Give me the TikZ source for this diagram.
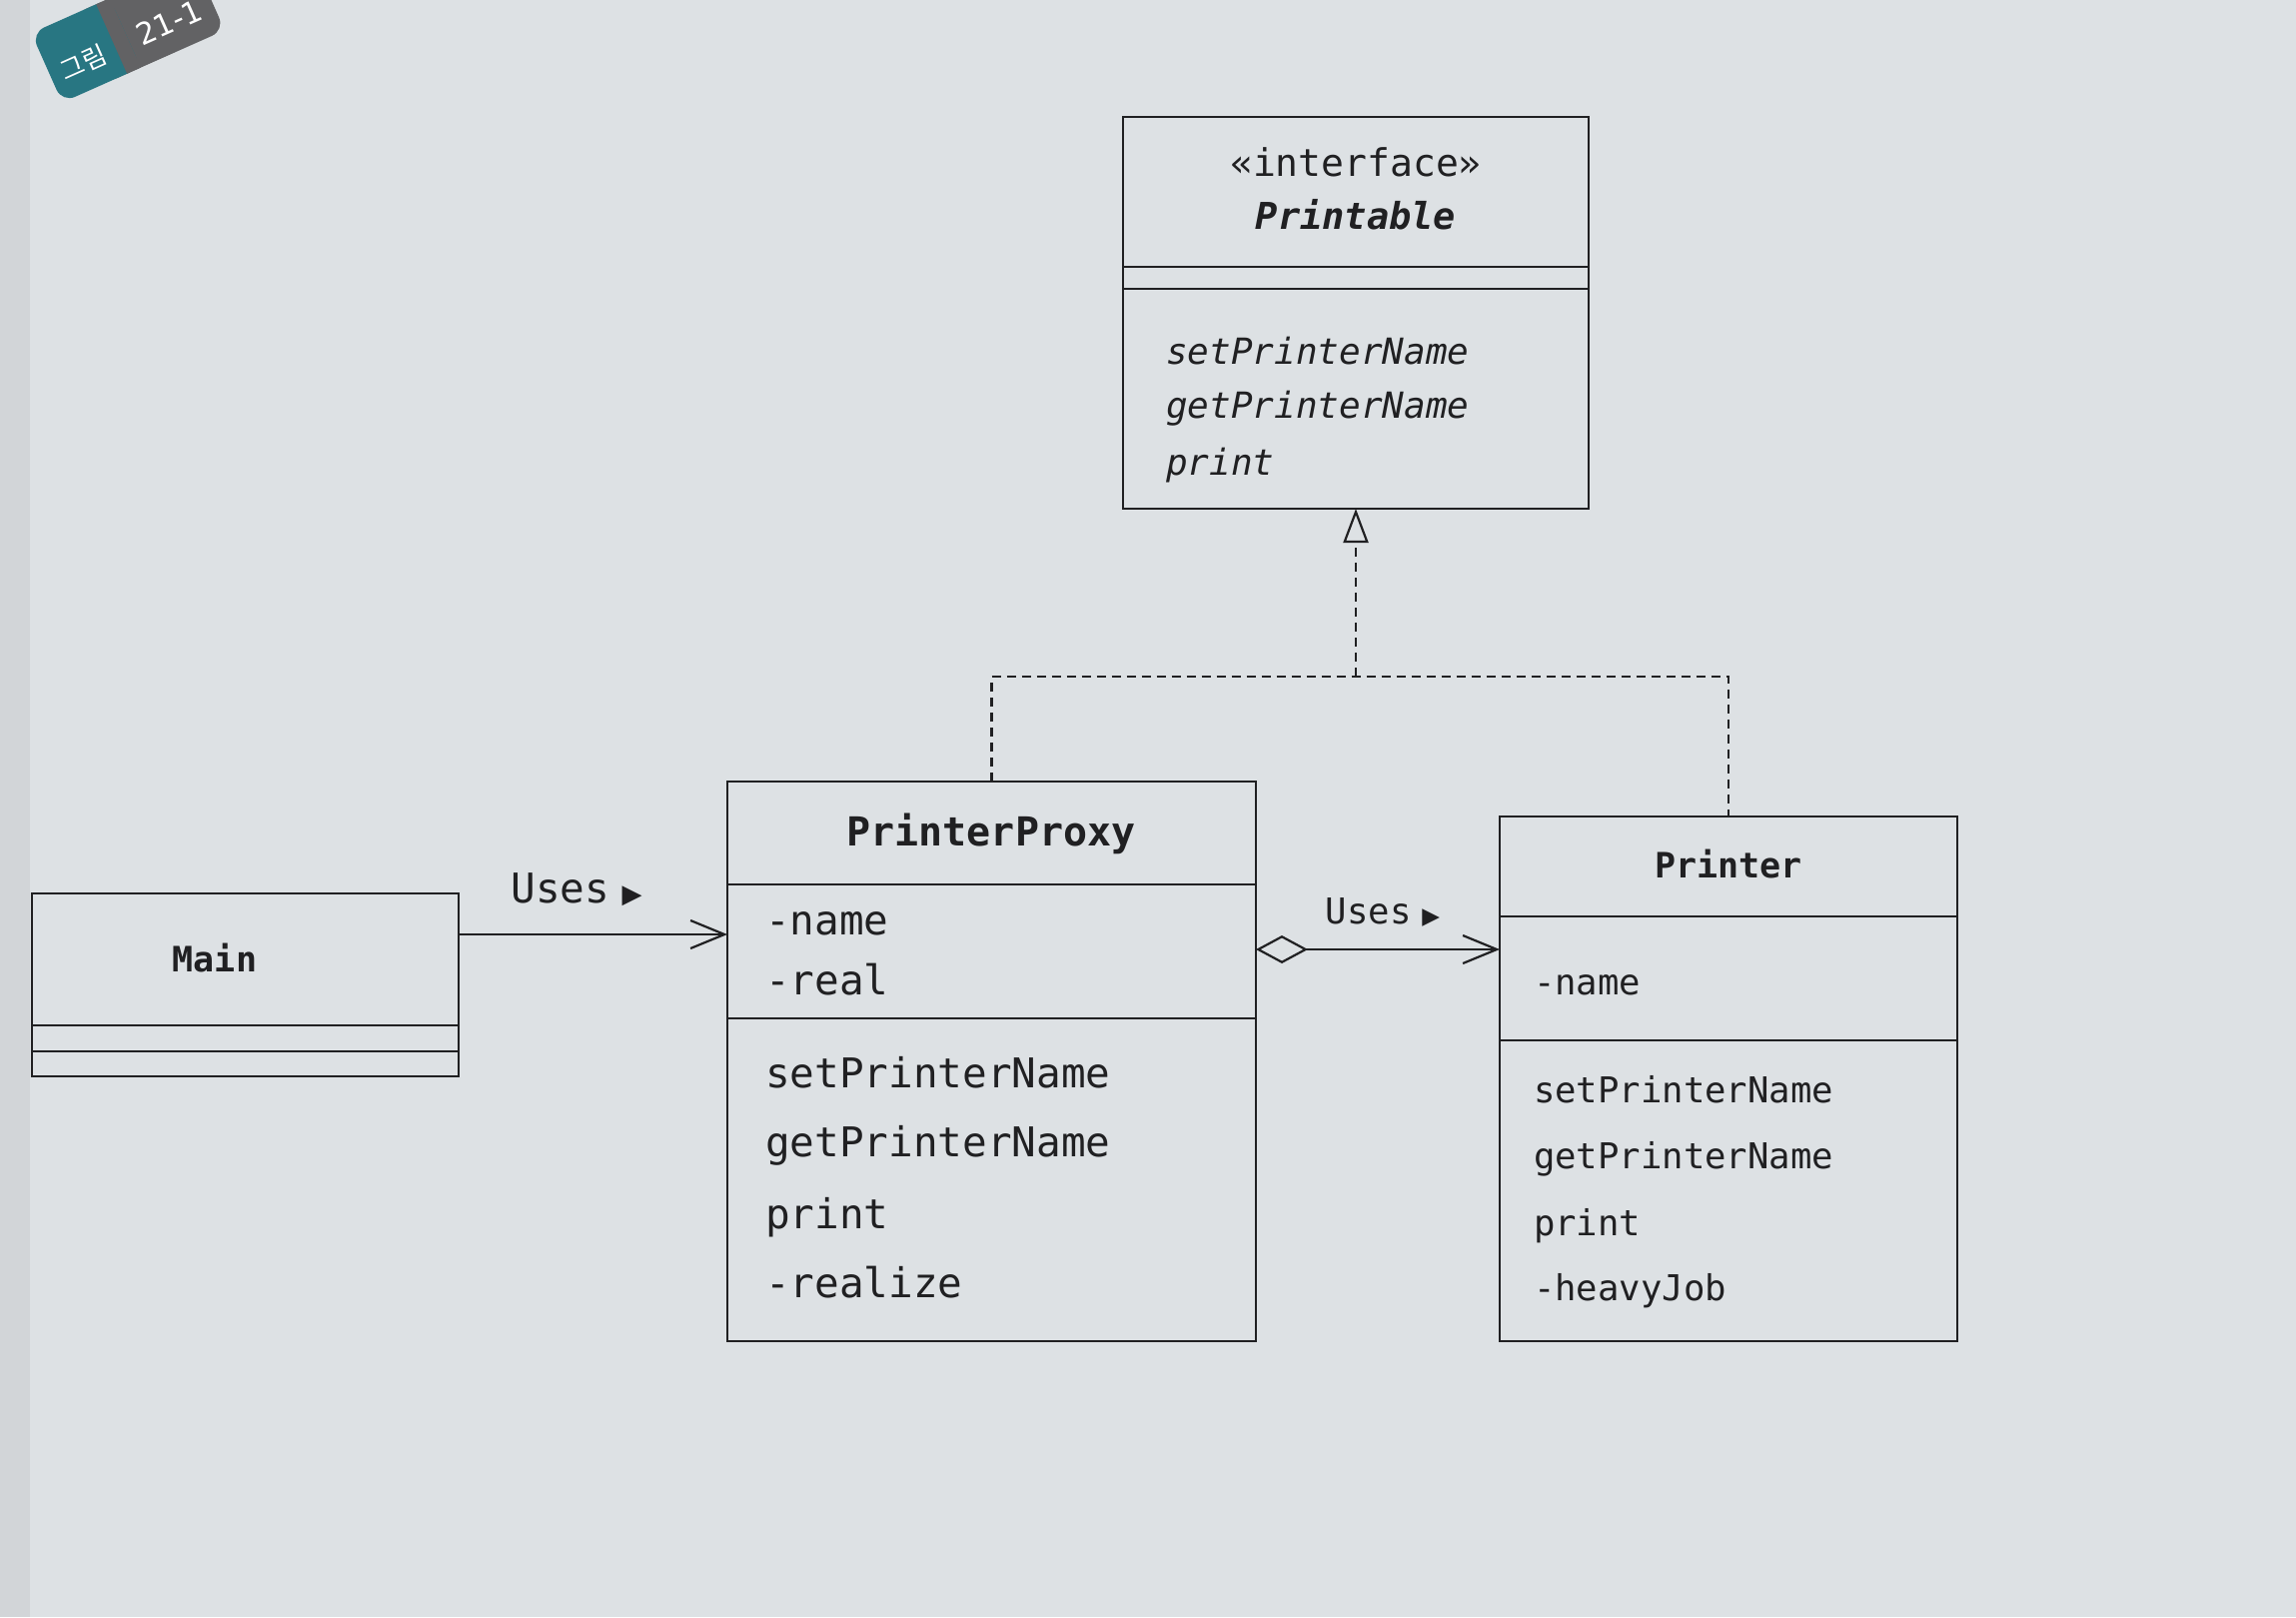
\documentclass[tikz,border=0pt]{standalone}
\usepackage{fontspec}
\setmonofont{DejaVu Sans Mono}[ItalicFont={DejaVu Sans Mono Oblique},BoldFont={DejaVu Sans Mono Bold},BoldItalicFont={DejaVu Sans Mono Bold Oblique}]
\newfontfamily\symf{DejaVu Sans}
\newfontfamily\krf{Noto Sans CJK KR}
\usetikzlibrary{arrows.meta}
\definecolor{pagebg}{RGB}{221,225,228}
\definecolor{pageedge}{RGB}{210,213,216}
\definecolor{ink}{RGB}{32,32,34}
\definecolor{tabteal}{RGB}{40,118,130}
\definecolor{tabgray}{RGB}{98,98,100}
\begin{document}
\begin{tikzpicture}[x=0.5pt,y=-0.5pt,
  cbox/.style={draw=ink, line width=1.1pt, inner sep=0pt, outer sep=0pt},
  cline/.style={draw=ink, line width=1.1pt},
  txt/.style={text=ink, inner sep=0pt, outer sep=0pt},
  pp/.style={txt, font=\ttfamily\fontsize{20.5}{24}\selectfont},
  ppt/.style={txt, font=\ttfamily\bfseries\fontsize{20}{24}\selectfont},
  pr/.style={txt, font=\ttfamily\fontsize{17.8}{22}\selectfont},
  prt/.style={txt, font=\ttfamily\bfseries\fontsize{17.5}{22}\selectfont},
  pa/.style={txt, font=\ttfamily\itshape\fontsize{18}{22}\selectfont},
  pat/.style={txt, font=\ttfamily\bfseries\itshape\fontsize{18.5}{22}\selectfont},
  pai/.style={txt, font=\ttfamily\fontsize{19}{22}\selectfont},
  usesA/.style={draw=ink, line width=1.1pt, -{Straight Barb[length=17pt,width=14pt]}},
  aggr/.style={draw=ink, line width=1.1pt, {Diamond[open,length=26pt,width=14pt]}-{Straight Barb[length=17pt,width=14pt]}},
  realz/.style={draw=ink, line width=1.1pt, dash pattern=on 4.5pt off 3pt},
  tabtxt/.style={text=white, inner sep=0pt, outer sep=0pt}
]
% page
\fill[pagebg] (0,0) rectangle (2298,1618);
\fill[pageedge] (0,0) rectangle (30,1618);
\useasboundingbox (0,0) rectangle (2298,1618);

% figure tab
\begin{scope}
  \clip (0,0) rectangle (2298,1618);
  \begin{scope}[shift={(112,52)}, rotate=24]
    \fill[tabgray, rounded corners=7pt] (-20,-50) rectangle (112,26);
    \fill[tabteal, rounded corners=7pt] (-66,-50) rectangle (20,26);
    \fill[tabgray] (5,-50) rectangle (20,26);
    \node[tabtxt, rotate=24, font=\krf\fontsize{13}{13}\selectfont] (tabk) at (-30,-2) {그림};
    \node[tabtxt, rotate=24, font=\symf\fontsize{15}{15}\selectfont] (tabn) at (64,-4) {21-1};
  \end{scope}
\end{scope}

% ---------- Printable ----------
\node[cbox, minimum width=233pt, minimum height=196pt] (printable) at (1357,313) {};
\draw[cline] (printable.west |- 0,267) -- (printable.east |- 0,267);
\draw[cline] (printable.west |- 0,289) -- (printable.east |- 0,289);
\node[pai, anchor=base] (pint) at (1357,176) {«interface»};
\node[pat, anchor=base] (pname) at (1357,229) {Printable};
\node[pa, anchor=base west] (pm1) at (1167,364) {setPrinterName};
\node[pa, anchor=base west] (pm2) at (1167,418) {getPrinterName};
\node[pa, anchor=base west] (pm3) at (1167,475) {print};

% ---------- PrinterProxy ----------
\node[cbox, minimum width=264.5pt, minimum height=280pt] (proxy) at (992.5,1062) {};
\draw[cline] (proxy.west |- 0,885) -- (proxy.east |- 0,885);
\draw[cline] (proxy.west |- 0,1019) -- (proxy.east |- 0,1019);
\node[ppt, anchor=base] (xname) at (992,846) {PrinterProxy};
\node[pp, anchor=base west] (xa1) at (766,935) {-name};
\node[pp, anchor=base west] (xa2) at (766,995) {-real};
\node[pp, anchor=base west] (xm1) at (766,1088) {setPrinterName};
\node[pp, anchor=base west] (xm2) at (766,1157) {getPrinterName};
\node[pp, anchor=base west] (xm3) at (766,1229) {print};
\node[pp, anchor=base west] (xm4) at (766,1298) {-realize};

% ---------- Printer ----------
\node[cbox, minimum width=229pt, minimum height=262.5pt] (printer) at (1730,1079.5) {};
\draw[cline] (printer.west |- 0,917) -- (printer.east |- 0,917);
\draw[cline] (printer.west |- 0,1041) -- (printer.east |- 0,1041);
\node[prt, anchor=base] (rname) at (1730,878) {Printer};
\node[pr, anchor=base west] (ra1) at (1535,995) {-name};
\node[pr, anchor=base west] (rm1) at (1535,1103) {setPrinterName};
\node[pr, anchor=base west] (rm2) at (1535,1169) {getPrinterName};
\node[pr, anchor=base west] (rm3) at (1535,1236) {print};
\node[pr, anchor=base west] (rm4) at (1535,1301) {-heavyJob};

% ---------- Main ----------
\node[cbox, minimum width=213.5pt, minimum height=91.5pt] (main) at (245.5,985.5) {};
\draw[cline] (main.west |- 0,1026) -- (main.east |- 0,1026);
\draw[cline] (main.west |- 0,1052) -- (main.east |- 0,1052);
\node[prt, anchor=base] (mname) at (215,972) {Main};

% ---------- connectors ----------
\coordinate (u1) at (0,935);
\draw[usesA] (main.east |- u1) -- (proxy.west |- u1);
\node[pp, anchor=base] (lbl1) at (577,903) {Uses\hspace{0.3em}{\symf\fontsize{13}{13}\selectfont ▶}};

\coordinate (u2) at (0,950);
\draw[aggr] (proxy.east |- u2) -- (printer.west |- u2);
\node[pr, anchor=base] (lbl2) at (1384,924) {Uses\hspace{0.3em}{\symf\fontsize{11.5}{11.5}\selectfont ▶}};

\coordinate (jm) at (1357,677);
\draw[realz] (proxy.north) |- (jm) -| (printer.north);
\draw[realz, -{Triangle[open,length=17pt,width=12.5pt]}] (jm) -- (printable.south);
\end{tikzpicture}
\end{document}
